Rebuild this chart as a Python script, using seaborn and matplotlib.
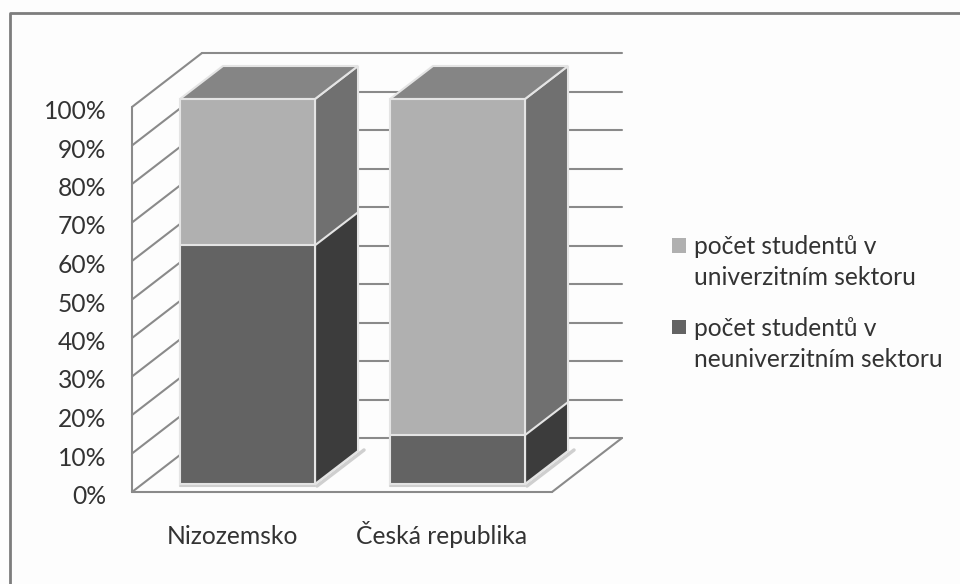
import matplotlib
matplotlib.use("Agg")
import matplotlib.pyplot as plt
from matplotlib.patches import Polygon
from matplotlib.transforms import Affine2D
import pandas as pd
import seaborn as sns

categories = ["Nizozemsko", "Česká republika"]
non_university = [62, 12.7]
university = [38, 87.3]
series_names = ["počet studentů v\nuniverzitním sektoru", "počet studentů v\nneuniverzitním sektoru"]
y_ticks = list(range(0, 101, 10))
y_labels = [f"{v}%" for v in y_ticks]

W, H = 960, 584
sns.set_theme(style="white", rc={"axes.facecolor": "none"})
plt.rcParams["font.family"] = ["Lato", "DejaVu Sans"]
TEXT = "#333333"
GRID = "#8a8a8a"
EDGE = "#e4e4e4"
FS = 17.7

fig = plt.figure(figsize=(W / 100, H / 100), dpi=100, facecolor="#fdfdfd")
ax = fig.add_axes([132 / W, 1 - 492 / H, 420 / W, 385 / H])

df = pd.DataFrame({"cat": categories,
                   "low": non_university,
                   "total": [a + b for a, b in zip(non_university, university)]})
sns.barplot(df, x="cat", y="total", ax=ax, color="#b0b0b0", saturation=1, width=0.643,
            label=series_names[0], edgecolor=EDGE, linewidth=1.5, zorder=5)
sns.barplot(df, x="cat", y="low", ax=ax, color="#636363", saturation=1, width=0.643,
            label=series_names[1], edgecolor=EDGE, linewidth=1.5, zorder=5)
ax.set_ylim(0, 100)
ax.set_xlim(-0.5, 1.5)
ax.set_xlabel("")
ax.set_ylabel("")
sns.despine(ax=ax, left=True, bottom=True, top=True, right=True)


def pixel_line(xs, ys, color=GRID, lw=1.5, z=1):
    line = plt.Line2D(xs, ys, transform=None, color=color, lw=lw, zorder=z)
    ax.add_artist(line)
    line.set_clip_on(False)


def pixel_poly(pts, face, z):
    poly = Polygon(pts, closed=True, transform=None, facecolor=face, edgecolor=EDGE, lw=1.5, zorder=z)
    ax.add_artist(poly)
    poly.set_clip_on(False)


# walls of the 3D plot
WX, WY = 70, 54
for v in y_ticks:
    a = ax.transData.transform((-0.5, v))
    b = ax.transData.transform((1.5, v))
    pixel_line([a[0] + WX, b[0] + WX], [a[1] + WY, b[1] + WY])
    pixel_line([a[0], a[0] + WX], [a[1], a[1] + WY])
ax.plot([-0.5, -0.5], [0, 100], color=GRID, lw=1.5, zorder=1, clip_on=False)
ax.plot([-0.5, 1.5], [0, 0], color=GRID, lw=1.5, zorder=1, clip_on=False)
p1 = ax.transData.transform((1.5, 0))
pixel_line([p1[0], p1[0] + WX], [p1[1], p1[1] + WY])

# depth faces of the bars, taken from the bars themselves
BX, BY = 43, 33
SHIFT = Affine2D().translate(10.5, 8)
bars = list(ax.patches)
n = len(categories)
for i, b in enumerate(bars):
    b.set_transform(ax.transData + SHIFT)
    b.set_clip_on(False)
    light = i < n
    side, top = ("#707070", "#858585") if light else ("#3c3c3c", None)
    box = b.get_bbox()
    bl, br, tl, tr = (ax.transData + SHIFT).transform([(box.x0, box.y0), (box.x1, box.y0),
                                                       (box.x0, box.y1), (box.x1, box.y1)])
    z = 3 if light else 4
    pixel_poly([br, tr, tr + (BX, BY), br + (BX, BY)], side, z)
    if top:
        pixel_poly([tl, tr, tr + (BX, BY), tl + (BX, BY)], top, z)
    else:
        pixel_line([br[0] + 2, br[0] + BX + 6], [br[1] - 2, br[1] + BY + 1], color="#cfcfcf", lw=2.5, z=2)
        pixel_line([bl[0], br[0]], [bl[1] - 2, br[1] - 2], color="#cfcfcf", lw=1.5, z=2)

ax.set_yticks(y_ticks, y_labels)
ax.tick_params(axis="y", length=0, pad=18.4, labelsize=FS, labelcolor=TEXT)
ax.tick_params(axis="x", length=0, pad=36, labelsize=FS, labelcolor=TEXT)
for t in ax.get_yticklabels():
    t.set_verticalalignment("center")
    t.set_transform(t.get_transform() + Affine2D().translate(0, -4.5))
for t in ax.get_xticklabels():
    t.set_verticalalignment("baseline")
    t.set_transform(t.get_transform() + Affine2D().translate(-5, -2))

h, l = ax.get_legend_handles_labels()
leg = ax.legend(h, l, loc="center left", bbox_to_anchor=(672 / W, 1 - 303 / H),
                bbox_transform=fig.transFigure, frameon=False, fontsize=FS,
                labelcolor=TEXT, handlelength=0.55, handleheight=0.55, handletextpad=0.35,
                labelspacing=1.1, borderpad=0, borderaxespad=0)
for t in leg.get_texts():
    t.set_linespacing(1.43)
for hd in leg.legend_handles:
    hd.set_edgecolor("none")
    hd.set_y(hd.get_y() + 12.5)

fig.add_artist(plt.Line2D([9.5 / W, 9.5 / W, 1], [0, 1 - 12.5 / H, 1 - 12.5 / H],
                          transform=fig.transFigure, color="#7d7d7d", lw=2))
fig.savefig("out.png", dpi=100, facecolor=fig.get_facecolor())
